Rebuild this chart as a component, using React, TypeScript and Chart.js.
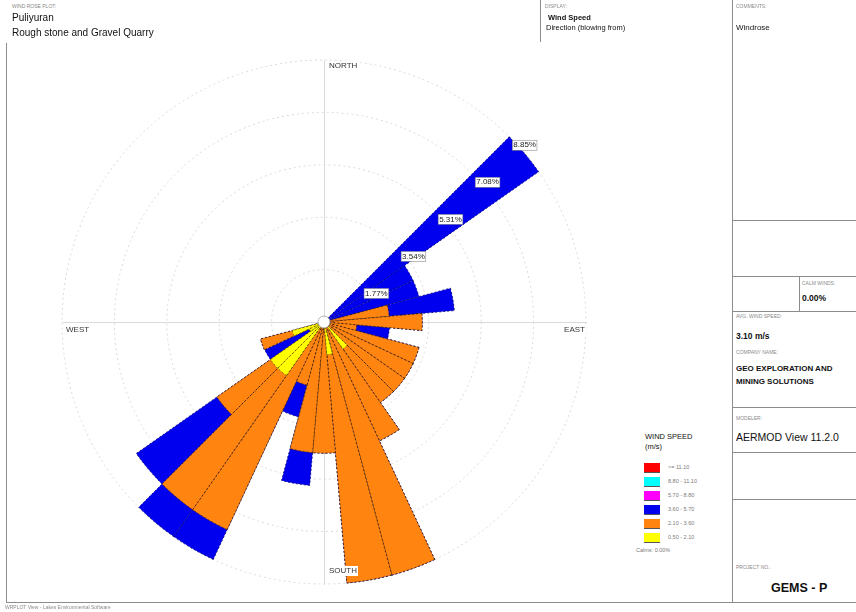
import React, { useEffect, useRef } from "react";
import { Chart, registerables } from "chart.js";

Chart.register(...registerables);

// ── Wind rose data: % frequency per 10° sector (blowing from) ──
const directions = [
  "0", "10", "20", "30", "40", "50", "60", "70", "80", "90", "100", "110",
  "120", "130", "140", "150", "160", "170", "180", "190", "200", "210", "220", "230",
  "240", "250", "260", "270", "280", "290", "300", "310", "320", "330", "340", "350",
];
// 0.50 - 2.10 m/s
const yellowFreq = [
  0, 0, 0, 0, 0, 0, 0, 0, 0, 0, 0, 0,
  0, 0, 1.11, 0, 0, 1.11, 0, 0, 0, 0, 2.21, 2.21,
  0.55, 1.11, 0, 0, 0, 0, 0, 0, 0, 0, 0, 0,
];
// 2.10 - 3.60 m/s
const orangeFreq = [
  0, 0, 0, 0, 0, 0, 0, 0, 2.21, 3.32, 1.11, 3.32,
  3.32, 3.32, 2.21, 4.43, 8.85, 7.74, 4.43, 4.43, 2.21, 7.74, 5.53, 2.21,
  0, 1.11, 0, 0, 0, 0, 0, 0, 0, 0, 0, 0,
];
// 3.60 - 5.70 m/s
const blueFreq = [
  0, 0, 0, 0, 0, 8.85, 3.32, 3.32, 2.21, 0, 1.11, 0,
  0, 0, 0, 0, 0, 0, 0, 1.11, 1.11, 1.11, 1.11, 3.32,
  1.66, 0, 0, 0, 0, 0, 0, 0, 0, 0, 0, 0,
];
const ringTicks = [0, 1.77, 3.54, 5.31, 7.08, 8.85];

const legendLabels = [">= 11.10", "8.80 - 11.10", "5.70 - 8.80", "3.60 - 5.70", "2.10 - 3.60", "0.50 - 2.10"];
const legendColors = ["#ff0000", "#00ffff", "#ff00ff", "#0000ee", "#ff8410", "#ffff00"];

const FONT = '"Liberation Sans", Arial, sans-serif';

// ── Rose decorations: axes cross, calm circle, ring + compass labels ──
const roseDecor = {
  id: "roseDecor",
  beforeDatasetsDraw(chart: any) {
    const r = chart.scales.r;
    const ctx = chart.ctx as CanvasRenderingContext2D;
    const cx = r.xCenter + 0.5, cy = r.yCenter + 0.5, R = r.drawingArea;
    ctx.save();
    ctx.strokeStyle = "#dadada";
    ctx.lineWidth = 1;
    ctx.beginPath();
    ctx.moveTo(cx, cy - R); ctx.lineTo(cx, cy + R);
    ctx.moveTo(cx - R, cy); ctx.lineTo(cx + R, cy);
    ctx.stroke();
    ctx.restore();
  },
  afterDatasetsDraw(chart: any) {
    const r = chart.scales.r;
    const ctx = chart.ctx as CanvasRenderingContext2D;
    const cx = r.xCenter, cy = r.yCenter;
    ctx.save();

    // calm circle
    ctx.beginPath();
    ctx.arc(cx, cy, 6, 0, Math.PI * 2);
    ctx.fillStyle = "#fff";
    ctx.fill();
    ctx.strokeStyle = "#a0a0a0";
    ctx.lineWidth = 0.8;
    ctx.stroke();

    // ring labels along the 45° line
    ctx.font = `8px ${FONT}`;
    ctx.textBaseline = "middle";
    ctx.textAlign = "left";
    r.ticks.forEach((t: any) => {
      if (t.value <= 0) return;
      const d = r.getDistanceFromCenterForValue(t.value);
      const x = cx + d * Math.SQRT1_2 + 4;
      const y = cy - d * Math.SQRT1_2 + 8.5;
      const txt = t.value.toFixed(2) + "%";
      const w = ctx.measureText(txt).width;
      ctx.fillStyle = "#fff";
      ctx.fillRect(x - 1, y - 5, w + 2, 10);
      ctx.strokeStyle = "#777";
      ctx.lineWidth = 0.5;
      ctx.strokeRect(x - 1, y - 5, w + 2, 10);
      ctx.fillStyle = "#222";
      ctx.fillText(txt, x, y);
    });

    // compass labels
    const put = (txt: string, x: number, y: number, align: CanvasTextAlign) => {
      ctx.textAlign = align;
      const w = ctx.measureText(txt).width;
      const left = align === "right" ? x - w : x;
      ctx.fillStyle = "#fff";
      ctx.fillRect(left - 1, y - 5, w + 2, 10);
      ctx.fillStyle = "#333";
      ctx.fillText(txt, x, y);
    };
    put("NORTH", cx + 5, cy - 256, "left");
    put("SOUTH", cx + 5, cy + 249, "left");
    put("WEST", cx - 258, cy + 8, "left");
    put("EAST", cx + 261, cy + 8, "right");
    ctx.restore();
  },
};

// ── Small text helpers ───────────────────────────────────────
const Tiny: React.FC<{ x: number; y: number; children: React.ReactNode }> = ({ x, y, children }) => (
  <div style={{ position: "absolute", left: x, top: y - 2.5, fontSize: 5, lineHeight: 1, color: "#8a8a8a", whiteSpace: "nowrap" }}>{children}</div>
);
const Txt: React.FC<{ x: number; y: number; size: number; bold?: boolean; children: React.ReactNode }> = ({ x, y, size, bold, children }) => (
  <div style={{ position: "absolute", left: x, top: y - size / 2, fontSize: size, lineHeight: 1, fontWeight: bold ? 700 : 400, color: "#111", whiteSpace: "nowrap" }}>{children}</div>
);
const HLine: React.FC<{ x: number; y: number; w: number }> = ({ x, y, w }) => (
  <div style={{ position: "absolute", left: x, top: y, width: w, height: 1, background: "#8c8c8c" }} />
);
const VLine: React.FC<{ x: number; y: number; h: number }> = ({ x, y, h }) => (
  <div style={{ position: "absolute", left: x, top: y, width: 1, height: h, background: "#8c8c8c" }} />
);

export default function App() {
  const ref = useRef<HTMLCanvasElement>(null);

  useEffect(() => {
    if (!ref.current) return;
    // stacked rose drawn as overlaid cumulative polar areas (inner class on top)
    const yCum = yellowFreq.map(v => v);
    const oCum = yellowFreq.map((v, i) => v + orangeFreq[i]);
    const bCum = oCum.map((v, i) => v + blueFreq[i]);
    const ds = (label: string, data: number[], color: string, border: string) => ({
      label, data,
      backgroundColor: color,
      borderColor: border,
      borderWidth: (c: any) => (c.raw > 0 ? 0.8 : 0),
      borderDash: [2, 2],
    });
    const chart = new Chart(ref.current, {
      type: "polarArea",
      data: {
        labels: directions,
        datasets: [
          ds("0.50 - 2.10", yCum, "#ffff00", "#5c5000"),
          ds("2.10 - 3.60", oCum, "#ff8410", "#3e1e00"),
          ds("3.60 - 5.70", bCum, "#0000ee", "#000070"),
        ],
      },
      options: {
        responsive: false,
        animation: false,
        events: [],
        layout: { padding: 38 },
        plugins: { legend: { display: false }, tooltip: { enabled: false } },
        scales: {
          r: {
            min: 0,
            max: 8.85,
            startAngle: -5,
            afterBuildTicks: (s: any) => { s.ticks = ringTicks.map(value => ({ value })); },
            ticks: { display: false },
            grid: { circular: true, color: "#d9d9d9", lineWidth: 1 },
            border: { dash: [2, 3] },
            angleLines: { display: false },
            pointLabels: { display: false },
          },
        },
      } as any,
      plugins: [roseDecor as any],
    });
    return () => chart.destroy();
  }, []);

  return (
    <div style={{ position: "fixed", left: 0, top: 0, width: 856, height: 612, background: "#fff", overflow: "hidden", fontFamily: FONT }}>
      <div style={{ position: "absolute", left: 24, top: 22, width: 600, height: 600 }}>
        <canvas ref={ref} width={600} height={600} />
      </div>

      {/* frame */}
      <VLine x={6} y={43} h={559} />
      <HLine x={6} y={602} w={850} />
      <VLine x={540} y={0} h={42} />
      <VLine x={732} y={0} h={602} />
      {[220, 276, 311, 407, 452, 499].map(y => <HLine key={y} x={732} y={y} w={124} />)}
      <VLine x={799} y={276} h={35} />

      {/* title block */}
      <Tiny x={12} y={6}>WIND ROSE PLOT:</Tiny>
      <Txt x={12} y={18} size={10}>Puliyuran</Txt>
      <Txt x={12} y={33} size={10}>Rough stone and Gravel Quarry</Txt>

      <Tiny x={545} y={6}>DISPLAY:</Tiny>
      <Txt x={548} y={18} size={7.5} bold>Wind Speed</Txt>
      <Txt x={546} y={28} size={7.5}>Direction (blowing from)</Txt>

      <Tiny x={736} y={6}>COMMENTS:</Tiny>
      <Txt x={736} y={28} size={8}>Windrose</Txt>

      <Tiny x={802} y={283}>CALM WINDS:</Tiny>
      <Txt x={802} y={298} size={8.5} bold>0.00%</Txt>

      <Tiny x={736} y={316}>AVG. WIND SPEED:</Tiny>
      <Txt x={736} y={336} size={8.5} bold>3.10 m/s</Txt>

      <Tiny x={736} y={352}>COMPANY NAME:</Tiny>
      <Txt x={736} y={369} size={8} bold>GEO EXPLORATION AND</Txt>
      <Txt x={736} y={382} size={8} bold>MINING SOLUTIONS</Txt>

      <Tiny x={736} y={418}>MODELER:</Tiny>
      <Txt x={736} y={437} size={10.5}>AERMOD View 11.2.0</Txt>

      <Tiny x={736} y={567}>PROJECT NO.:</Tiny>
      <Txt x={771} y={588} size={12.5} bold>GEMS - P</Txt>

      <Tiny x={5} y={607}>WRPLOT View - Lakes Environmental Software</Tiny>

      {/* legend */}
      <Txt x={645} y={437} size={7.5}>WIND SPEED</Txt>
      <Txt x={645} y={447} size={7.5}>(m/s)</Txt>
      {legendLabels.map((l, i) => (
        <React.Fragment key={l}>
          <div style={{ position: "absolute", left: 644, top: 463 + i * 14, width: 16, height: 9, background: legendColors[i], borderBottom: "1px solid #555" }} />
          <div style={{ position: "absolute", left: 668, top: 465 + i * 14, fontSize: 5.5, lineHeight: 1, color: "#7a7a7a", whiteSpace: "nowrap" }}>{l}</div>
        </React.Fragment>
      ))}
      <div style={{ position: "absolute", left: 636, top: 548, fontSize: 5.5, lineHeight: 1, color: "#7a7a7a", whiteSpace: "nowrap" }}>Calms: 0.00%</div>
    </div>
  );
}
